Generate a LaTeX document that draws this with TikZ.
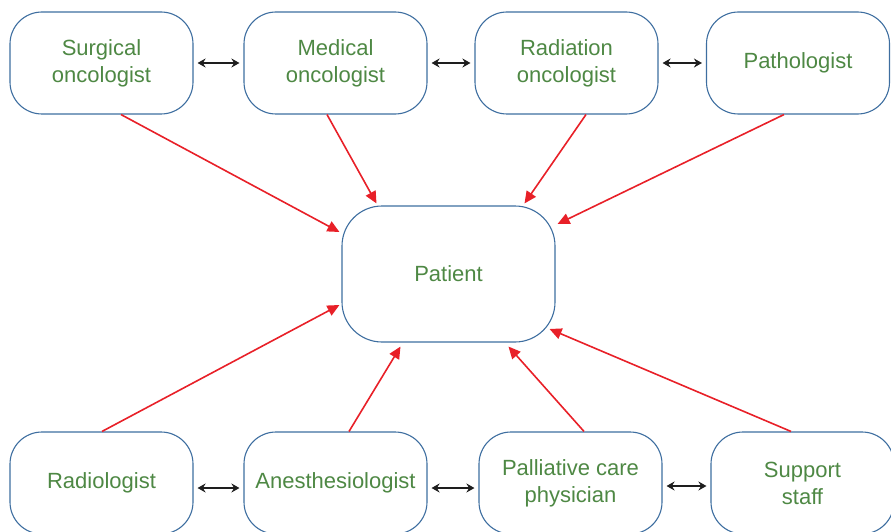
\documentclass[tikz,border=0pt]{standalone}
\usepackage{fontspec}
\setmainfont{Liberation Sans}
\usetikzlibrary{arrows.meta,calc}
\definecolor{boxblue}{RGB}{62,110,160}
\definecolor{txtgreen}{RGB}{78,136,68}
\definecolor{linkred}{RGB}{232,32,40}
\definecolor{linkblack}{RGB}{30,30,30}
\begin{document}
\begin{tikzpicture}[x=1pt,y=-1pt,
  member/.style={draw=boxblue,line width=1.1pt,rounded corners=32pt,
    minimum width=183pt,minimum height=102pt,inner sep=0pt,
    align=center,text=txtgreen,font=\fontsize{22}{27}\selectfont},
  hub/.style={member,minimum width=213pt,minimum height=136pt,rounded corners=40pt},
  link/.style={linkred,line width=1.6pt,-{Triangle[length=12pt,width=11pt]}},
  peer/.style={linkblack,line width=2pt,{Stealth[length=8pt,width=9pt]}-{Stealth[length=8pt,width=9pt]}}]
\useasboundingbox (0,0) rectangle (891,532);
\begin{scope}
\clip (0,0) rectangle (891,532);
% top row
\node[member] (so) at (101.5,63) {Surgical\\oncologist};
\node[member] (mo) at (335.5,63) {Medical\\oncologist};
\node[member] (ro) at (566.5,63) {Radiation\\oncologist};
\node[member] (pa) at (798,63) {Pathologist};
% centre
\node[hub] (pt) at (448.5,274) {Patient};
% bottom row
\node[member] (ra) at (101.5,483) {Radiologist};
\node[member] (an) at (335.5,483) {Anesthesiologist};
\node[member] (pc) at (570.5,483) {Palliative care\\physician};
\node[member] (ss) at (802.5,483) {Support\\staff};
\end{scope}
% links between neighbours
\draw[peer] ($(so.east)+(4,0)$) -- ($(mo.west)+(-4,0)$);
\draw[peer] ($(mo.east)+(4,0)$) -- ($(ro.west)+(-4,0)$);
\draw[peer] ($(ro.east)+(4,0)$) -- ($(pa.west)+(-4,0)$);
\draw[peer] ($(ra.east)+(4,5)$) -- ($(an.west)+(-4,5)$);
\draw[peer] ($(an.east)+(4,5)$) -- ($(pc.west)+(-4,5)$);
\draw[peer] ($(pc.east)+(4,3)$) -- ($(ss.west)+(-4,3)$);
% links to the patient
\draw[link] ($(so.south)+(19.5,0)$) -- ($(pt.west)+(-2,-42)$);
\draw[link] ($(mo.south)+(-8.5,0)$) -- ($(pt.north)+(-72,-2)$);
\draw[link] ($(ro.south)+(19.5,0)$) -- ($(pt.north)+(76,-2)$);
\draw[link] ($(pa.south)+(-14,0)$) -- ($(pt.east)+(2,-50)$);
\draw[link] ($(ra.north)+(0.5,0)$) -- ($(pt.west)+(-2,31)$);
\draw[link] ($(an.north)+(13.5,0)$) -- ($(pt.south)+(-48,4)$);
\draw[link] ($(pc.north)+(13.5,0)$) -- ($(pt.south)+(60,4)$);
\draw[link] ($(ss.north)+(-11.5,0)$) -- ($(pt.east)+(-6,55)$);
\end{tikzpicture}
\end{document}
